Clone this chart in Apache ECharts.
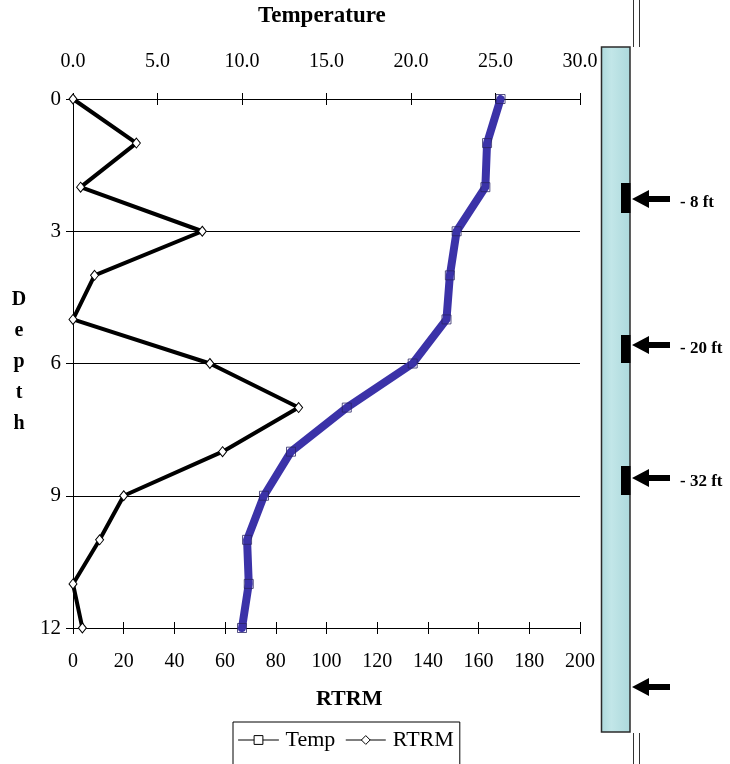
<!DOCTYPE html>
<html>
<head>
<meta charset="utf-8">
<title>Temperature and RTRM vs Depth</title>
<script src="https://cdn.jsdelivr.net/npm/echarts@6/dist/echarts.min.js"></script>
<style>
  html, body { margin: 0; padding: 0; background: #fff; }
  #chart { width: 730px; height: 764px; }
</style>
</head>
<body>
<div id="chart"></div>
<script>
// Profile readings, one per unit of depth
const depth = [0, 1, 2, 3, 4, 5, 6, 7, 8, 9, 10, 11, 12];
const temp = [25.3, 24.5, 24.4, 22.7, 22.3, 22.1, 20.1, 16.2, 12.9, 11.3, 10.3, 10.4, 10.0];
const rtrm = [0, 25, 3, 51, 8.5, 0, 54, 89, 59, 20, 10.5, 0, 3.7];

// Axis ranges
const depthTicks = [0, 3, 6, 9, 12];
const tempRange = [0, 30, 5];
const rtrmRange = [0, 200, 20];

// Well screen callouts
const screenLabels = ['- 8 ft', '- 20 ft', '- 32 ft'];

const SERIF = "'Liberation Serif', 'Times New Roman', serif";
const chart = echarts.init(document.getElementById('chart'), null, { renderer: 'canvas' });

const tickLen = 6;
// Outer ticks with labels
function xAxisBase(pos, range, fmt) {
  return {
    type: 'value', position: pos, min: range[0], max: range[1], interval: range[2],
    axisLine: { show: true, onZero: false, lineStyle: { color: '#000', width: 1 } },
    axisTick: { show: true, inside: false, length: tickLen, lineStyle: { color: '#000', width: 1 } },
    axisLabel: { show: true, color: '#000', fontFamily: SERIF, fontSize: 20, formatter: fmt,
                 margin: pos === 'top' ? 27 : 24 },
    splitLine: { show: false }
  };
}
// Inner half of the crossing ticks
function xAxisInner(pos, range) {
  return {
    type: 'value', position: pos, min: range[0], max: range[1], interval: range[2],
    axisLine: { show: false, onZero: false },
    axisTick: { show: true, inside: true, length: tickLen, lineStyle: { color: '#000', width: 1 } },
    axisLabel: { show: false },
    splitLine: { show: false }
  };
}

// Casing with screen intervals and arrows
const casing = { x: 601.5, y: 47, w: 28.5, h: 685 };
const screens = [[183, 213], [335, 363], [466, 495]];
const arrowY = [199, 345, 478, 687];
function arrow(y) {
  return {
    type: 'polygon',
    shape: { points: [[632, y], [649, y - 9], [649, y - 3], [670, y - 3], [670, y + 3], [649, y + 3], [649, y + 9]] },
    style: { fill: '#000' }
  };
}

const graphics = [
  { type: 'text', left: 258, top: 5, style: { text: 'Temperature', font: 'bold 23px ' + SERIF, fill: '#000' } },
  { type: 'text', left: 316, top: 688, style: { text: 'RTRM', font: 'bold 22px ' + SERIF, fill: '#000' } },
  { type: 'text', x: 19, y: 284, style: { text: 'D\ne\np\nt\nh', font: 'bold 20px ' + SERIF, fill: '#000',
      align: 'center', verticalAlign: 'top', lineHeight: 31 } },
  { type: 'rect', shape: { x: casing.x, y: casing.y, width: casing.w, height: casing.h },
    style: { fill: new echarts.graphic.LinearGradient(0, 0, 1, 0, [
      { offset: 0, color: '#acd9dc' }, { offset: 0.35, color: '#c2e6e8' }, { offset: 1, color: '#acd9dc' }]),
      stroke: '#2b2b2b', lineWidth: 1.5 } },
  { type: 'line', shape: { x1: 633.5, y1: 0, x2: 633.5, y2: 47 }, style: { stroke: '#333', lineWidth: 1 } },
  { type: 'line', shape: { x1: 639.5, y1: 0, x2: 639.5, y2: 47 }, style: { stroke: '#333', lineWidth: 1 } },
  { type: 'line', shape: { x1: 633.5, y1: 733, x2: 633.5, y2: 764 }, style: { stroke: '#333', lineWidth: 1 } },
  { type: 'line', shape: { x1: 639.5, y1: 733, x2: 639.5, y2: 764 }, style: { stroke: '#333', lineWidth: 1 } }
];
screens.forEach(s => graphics.push({ type: 'rect', shape: { x: 621, y: s[0], width: 9.5, height: s[1] - s[0] },
  style: { fill: '#000' } }));
arrowY.forEach(y => graphics.push(arrow(y)));
screenLabels.forEach((t, i) => graphics.push({ type: 'text', x: 680, y: arrowY[i] + 4,
  style: { text: t, font: 'bold 17px ' + SERIF, fill: '#000', verticalAlign: 'middle' } }));

chart.setOption({
  animation: false,
  backgroundColor: '#fff',
  grid: { left: 73, right: 150, top: 99, bottom: 136, containLabel: false },
  xAxis: [
    xAxisBase('bottom', rtrmRange, v => String(v)),
    xAxisBase('top', tempRange, v => v.toFixed(1)),
    xAxisInner('bottom', rtrmRange),
    xAxisInner('top', tempRange)
  ],
  yAxis: {
    type: 'value', inverse: true, min: depthTicks[0], max: depthTicks[depthTicks.length - 1], interval: 3,
    axisLine: { show: true, onZero: false, lineStyle: { color: '#000', width: 1 } },
    axisTick: { show: true, length: 7, lineStyle: { color: '#000', width: 1 } },
    axisLabel: { color: '#000', fontFamily: SERIF, fontSize: 21, margin: 12 },
    splitLine: { show: true, lineStyle: { color: '#000', width: 1 } }
  },
  legend: {
    left: 233, top: 722,
    padding: [7, 6, 40, 5],
    itemGap: 10, itemWidth: 40, itemHeight: 11,
    borderColor: '#000', borderWidth: 1, backgroundColor: '#fff',
    textStyle: { color: '#000', fontFamily: SERIF, fontSize: 22, padding: [0, 0, 0, 2] },
    itemStyle: { color: '#fff', borderColor: '#000', borderWidth: 1 },
    lineStyle: { color: '#000', width: 1 },
    data: ['Temp', 'RTRM']
  },
  series: [
    {
      name: 'Temp', type: 'line', xAxisIndex: 1,
      data: depth.map((d, i) => [temp[i], d]),
      lineStyle: { color: '#3b32a8', width: 8, join: 'round', cap: 'round' },
      symbol: 'rect', symbolSize: 9, showAllSymbol: true,
      itemStyle: { color: 'rgba(255,255,255,0)', borderColor: '#2a2566', borderWidth: 0.8 },
      z: 2
    },
    {
      name: 'RTRM', type: 'line', xAxisIndex: 0,
      data: depth.map((d, i) => [rtrm[i], d]),
      lineStyle: { color: '#000', width: 4, join: 'round' },
      symbol: 'diamond', symbolSize: [8, 10], showAllSymbol: true,
      itemStyle: { color: '#fff', borderColor: '#000', borderWidth: 1 },
      z: 3
    }
  ],
  graphic: graphics
});
</script>
</body>
</html>
